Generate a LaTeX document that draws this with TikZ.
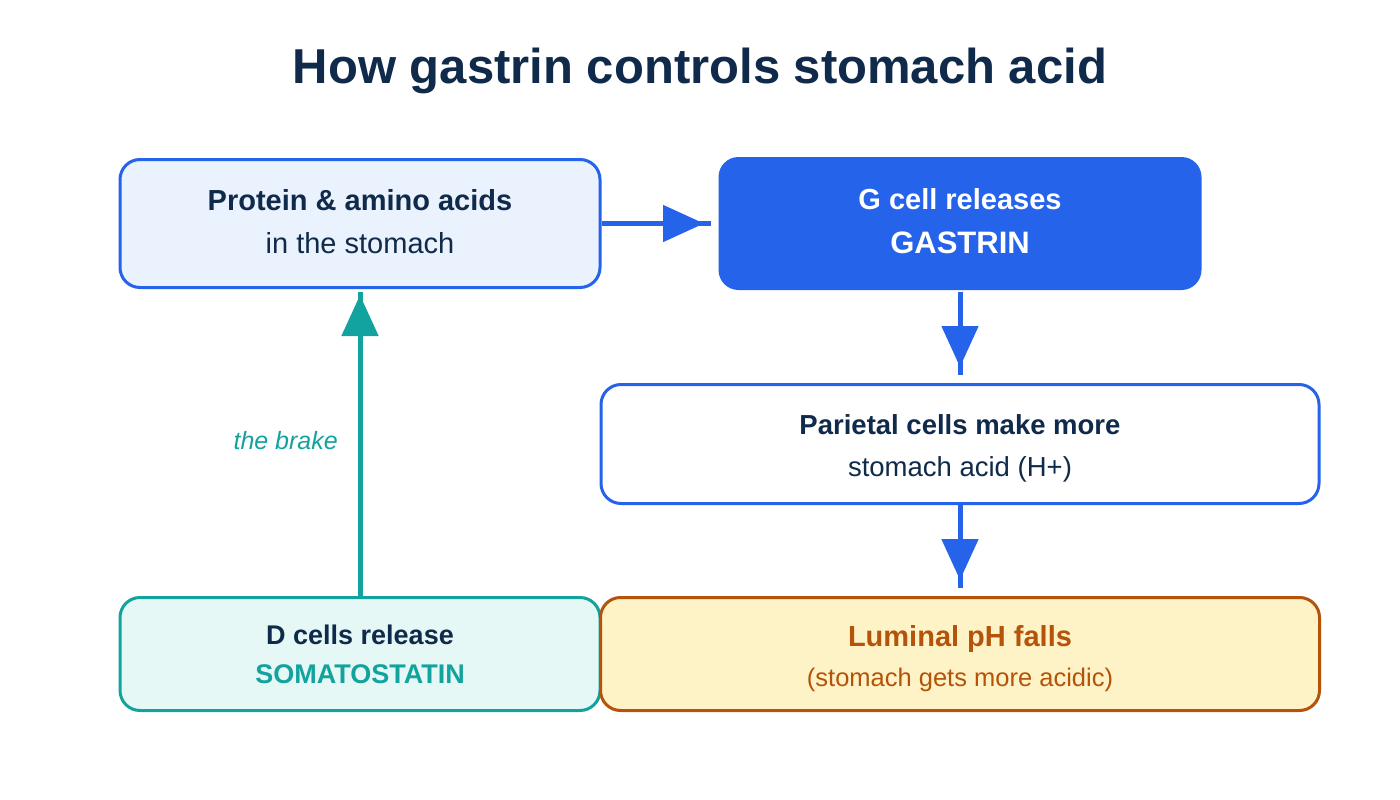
\documentclass[tikz,border=0pt]{standalone}
\usepackage{fontspec}
\setmainfont{Liberation Sans}
\usetikzlibrary{arrows.meta}
\definecolor{cnavy}{HTML}{0F2A4A}
\definecolor{cblue}{HTML}{2563EB}
\definecolor{cbluelight}{HTML}{EAF2FD}
\definecolor{cteal}{HTML}{13A39E}
\definecolor{cteallight}{HTML}{E6F8F6}
\definecolor{corange}{HTML}{B45309}
\definecolor{cyellow}{HTML}{FEF3C7}
\tikzset{
  box/.style={rectangle, rounded corners=20pt, line width=3pt, inner sep=0pt},
  txt/.style={anchor=base, inner sep=0pt, text=cnavy},
  fs/.style={font=\fontsize{#1}{#1}\selectfont},
  fsb/.style={font=\fontsize{#1}{#1}\selectfont\bfseries},
  conn/.style={line width=5pt},
  tipb/.style={-{Triangle[length=41pt,width=36pt]}},
}
\begin{document}
\begin{tikzpicture}[x=1pt,y=-1pt]
\useasboundingbox[fill=white] (0,0) rectangle (1400,800);

% title
\node[txt, fsb=49] (title) at (700,84) {How gastrin controls stomach acid};

% boxes
\node[box, draw=cblue, fill=cbluelight, minimum width=480pt, minimum height=128pt] (prot) at (360,223.5) {};
\node[box, fill=cblue, rounded corners=20pt, minimum width=483pt, minimum height=133pt] (gcell) at (960,223.5) {};
\node[box, draw=cblue, fill=white, minimum width=718pt, minimum height=119pt] (par) at (960,444) {};
\node[box, draw=cteal, fill=cteallight, minimum width=480pt, minimum height=113pt] (dcell) at (360,654) {};
\node[box, draw=corange, fill=cyellow, minimum width=719pt, minimum height=113pt] (lum) at (960,654) {};

% texts
\node[txt, fsb=29] (protA) at (360,210.5) {Protein \& amino acids};
\node[txt, fs=29] (protB) at (360,253) {in the stomach};
\node[txt, fsb=29, text=white] (gA) at (960,209) {G cell releases};
\node[txt, fsb=31, text=white] (gB) at (960,253) {GASTRIN};
\node[txt, fsb=27.5] (parA) at (960,434) {Parietal cells make more};
\node[txt, fs=27.5] (parB) at (960,476) {stomach acid (H+)};
\node[txt, fsb=27] (dA) at (360,644) {D cells release};
\node[txt, fsb=27, text=cteal] (dB) at (360,683) {SOMATOSTATIN};
\node[txt, fsb=29, text=corange] (lA) at (960,646) {Luminal pH falls};
\node[txt, fs=25.5, text=corange] (lB) at (960,686) {(stomach gets more acidic)};

% connectors
\draw[conn, cblue, shorten >=6pt] (prot.east) -- (gcell.west);
\draw[conn, cblue, tipb, shorten >=13pt] (prot.east) -- (gcell.west);

\draw[conn, cblue, shorten >=8pt] (gcell.south) -- (par.north);
\draw[conn, cblue, tipb, shorten >=16pt] (gcell.south) -- (par.north);

\draw[conn, cblue, shorten >=8pt] (par.south) -- (lum.north);
\draw[conn, cblue, tipb, shorten >=16pt] (par.south) -- (lum.north);

\draw[conn, cteal, shorten >=3pt] (dcell.north) -- (prot.south);
\draw[conn, cteal, tipb, shorten >=6pt] (dcell.north) -- (prot.south);

\node[anchor=base east, inner sep=0pt, text=cteal, font=\fontsize{25}{25}\selectfont\itshape] (brake) at (338,449) {the brake};
\end{tikzpicture}
\end{document}
